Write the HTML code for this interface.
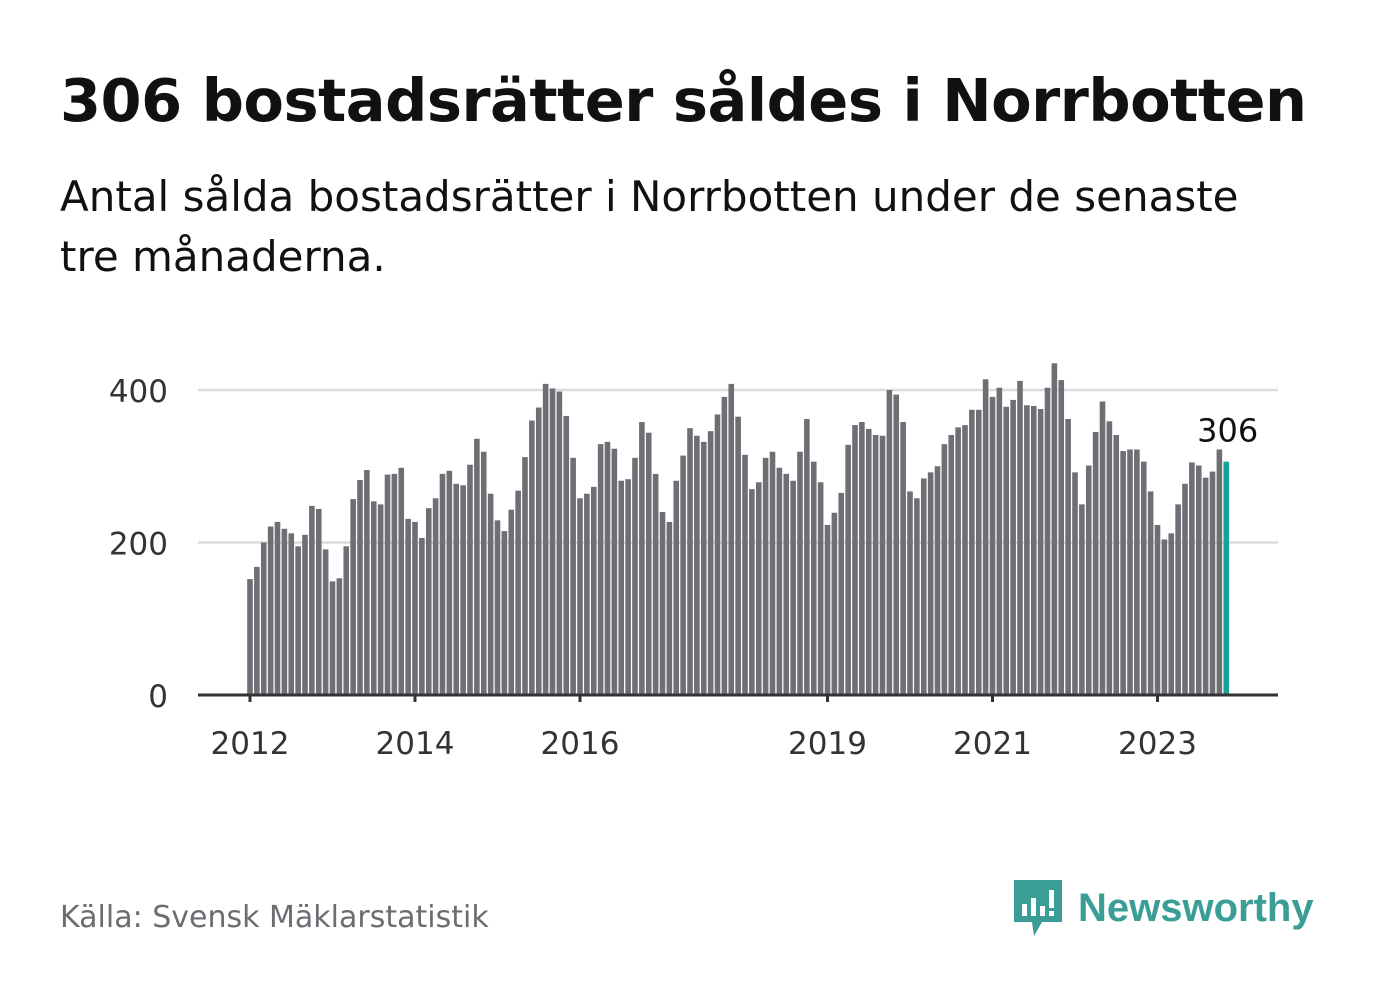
<!DOCTYPE html>
<html><head><meta charset="utf-8"><style>
body{margin:0;width:1382px;height:999px;background:#fff;font-family:"DejaVu Sans","Liberation Sans",sans-serif;overflow:hidden;position:relative}
.t{position:absolute;left:60px;top:66px;font-size:59px;font-weight:bold;color:#111;margin:0;letter-spacing:-0.5px;white-space:nowrap}
.s{position:absolute;left:60px;top:167px;font-size:42px;line-height:60px;color:#111;width:1230px}
.src{position:absolute;left:60px;top:900px;font-size:30px;color:#6d6c72}
.logo{position:absolute;left:1012px;top:878px;display:flex;align-items:center}
.logo span{font-family:"Liberation Sans",sans-serif;font-size:40px;font-weight:bold;color:#3a9d96;margin-left:14px}
</style></head><body>
<h1 class="t">306 bostadsrätter såldes i Norrbotten</h1>
<div class="s">Antal sålda bostadsrätter i Norrbotten under de senaste tre månaderna.</div>
<svg id="c" width="1382" height="999" style="position:absolute;left:0;top:0"></svg>
<div class="src">Källa: Svensk Mäklarstatistik</div>
<div class="logo">
<svg width="52" height="60" viewBox="0 0 52 60"><path d="M2 2h48v42H30l-8 14-2-14H2z" fill="#3a9d96"/><rect x="10" y="26" width="5" height="12" fill="#fff"/><rect x="19" y="20" width="5" height="18" fill="#fff"/><rect x="28" y="28" width="5" height="10" fill="#fff"/><rect x="37" y="12" width="5" height="18" fill="#fff"/><rect x="37" y="33" width="5" height="5" fill="#fff"/></svg>
<span>Newsworthy</span></div>
<script>
const values=[152,168,200,221,227,218,212,195,210,248,244,191,149,153,195,257,282,295,254,250,289,290,298,231,227,206,245,258,290,294,277,275,302,336,319,264,229,215,243,268,312,360,377,408,402,398,366,311,258,264,273,329,332,323,281,283,311,358,344,290,240,227,281,314,350,340,332,346,368,391,408,365,315,270,279,311,319,298,290,281,319,362,306,279,223,239,265,328,354,358,349,341,340,400,394,358,267,258,284,292,300,329,341,351,354,374,374,414,391,403,378,387,412,380,379,375,403,435,413,362,292,250,301,345,385,359,341,320,322,322,306,267,223,204,212,250,277,305,301,285,293,322,306];
const yTicks=[0,200,400];
const xTickLabels=["2012","2014","2016","2019","2021","2023"];
const xTickIndex=[0,24,48,84,108,132];
const NS="http://www.w3.org/2000/svg",svg=document.getElementById('c');
const y=v=>695-v*0.7625, x=i=>250+i*6.875;
const FF='DejaVu Sans, Liberation Sans, sans-serif';
function mk(t,a){const e=document.createElementNS(NS,t);for(const k in a)e.setAttribute(k,a[k]);svg.appendChild(e);return e;}
yTicks.forEach(v=>{
 if(v>0){const g=mk('line',{x1:198,x2:1278,y1:y(v),y2:y(v),stroke:'#dcdcdc','stroke-width':2.5});
 
 }
 const t=mk('text',{x:168,y:y(v)+12,'text-anchor':'end','font-size':31,fill:'#333','font-family':FF});
 t.textContent=v;
 
 
});
values.forEach((v,i)=>{
 const last=i===values.length-1;
 const r=mk('rect',{x:x(i)-2.8,y:y(v),width:5.6,height:695-y(v),fill:last?'#14a396':'#6f6e74'});
 
 
});
const ax=mk('line',{x1:198,x2:1278,y1:695,y2:695,stroke:'#333','stroke-width':3});


xTickIndex.forEach((idx,k)=>{
 const tk=mk('line',{x1:x(idx),x2:x(idx),y1:695,y2:702,stroke:'#333','stroke-width':3});
 
 
 const t=mk('text',{x:x(idx),y:754,'text-anchor':'middle','font-size':31,fill:'#333','font-family':FF});
 t.textContent=xTickLabels[k];
 
 
});
const li=values.length-1;
const lab=mk('text',{x:x(li)+32,y:y(values[li])-20,'text-anchor':'end','font-size':32,fill:'#111','font-family':FF});
lab.textContent=values[li];


</script>
</body></html>
